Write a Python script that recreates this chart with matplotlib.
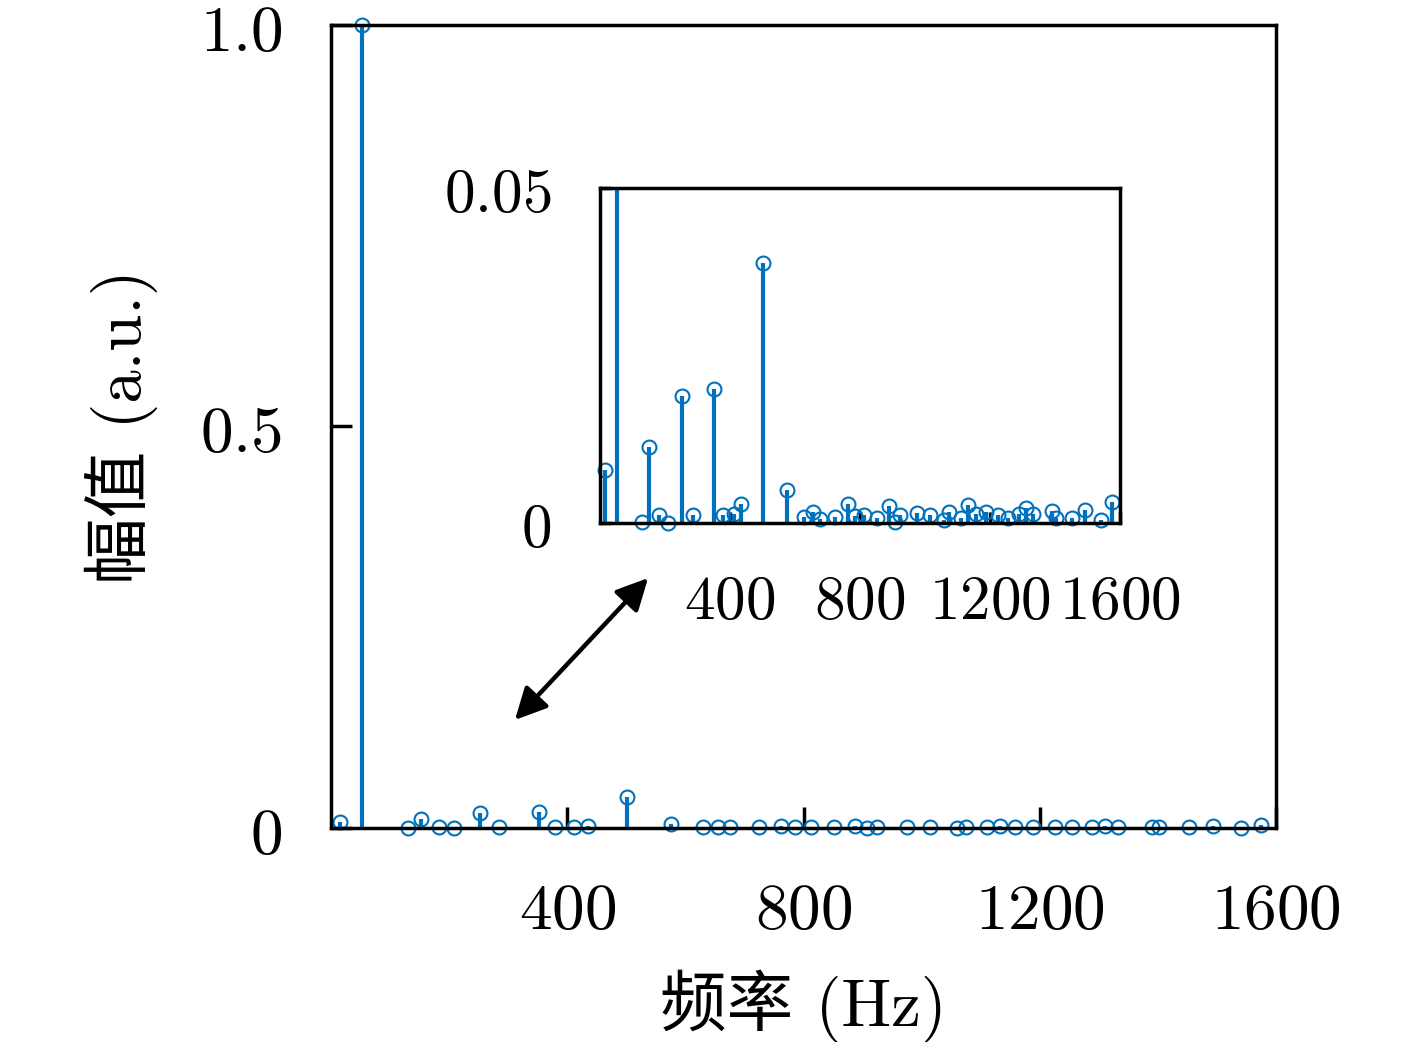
import numpy as np
import matplotlib
matplotlib.use('Agg')
import matplotlib.pyplot as plt
from matplotlib.patches import FancyArrowPatch

plt.rcParams['mathtext.fontset'] = 'cm'
plt.rcParams['font.family'] = ['Noto Sans CJK SC', 'DejaVu Sans']

# spectrum
freq = [15, 52, 130, 152, 182, 208, 252, 285, 352, 379, 411, 435, 501, 576,
        629, 655, 676, 724, 762, 785, 812, 852, 888, 908, 924, 975, 1014,
        1060, 1075, 1111, 1132, 1158, 1188, 1225, 1254, 1289, 1310, 1332,
        1390, 1402, 1452, 1493, 1541, 1575]
amp = [0.0079, 1.0, 0.0002, 0.0114, 0.0012, 0.0, 0.0189, 0.0012, 0.020,
       0.0012, 0.0013, 0.0029, 0.0388, 0.0049, 0.0009, 0.0017, 0.0006,
       0.0009, 0.0028, 0.0010, 0.0012, 0.0007, 0.0025, 0.0002, 0.0012,
       0.0015, 0.0012, 0.0004, 0.0017, 0.0007, 0.0027, 0.0014, 0.0017,
       0.0012, 0.0007, 0.0014, 0.0023, 0.0014, 0.0018, 0.0007, 0.0007,
       0.0020, 0.0004, 0.0032]

xticks = [400, 800, 1200, 1600]
main_yticks = [0, 0.5, 1.0]
main_ylabels = ['$0$', '$0.5$', '$1.0$']
inset_yticks = [0, 0.05]
inset_ylabels = ['$0$', '$0.05$']

blue = '#0072BD'
label_font = ['cmr10', 'Noto Sans CJK SC']

fig = plt.figure(figsize=(14.17, 10.42), dpi=100)


def draw_stems(ax, ymax, msize):
    ml, sl, bl = ax.stem(freq, amp, linefmt='-', markerfmt='o', basefmt=' ')
    sl.set_color(blue)
    sl.set_linewidth(3)
    ml.set_markerfacecolor('none')
    ml.set_markeredgecolor(blue)
    ml.set_markersize(msize)
    ml.set_markeredgewidth(1.5)
    ml.set_clip_on(False)
    ml.set_markevery([i for i, a in enumerate(amp) if a <= ymax])
    return ml


def style_axes(ax, ticklen, pad, size):
    for s in ax.spines.values():
        s.set_linewidth(2.5)
    ax.tick_params(direction='in', length=ticklen, width=2.5, top=False,
                   right=False, pad=pad, labelsize=size)


# main axes
ax = fig.add_axes([0.2336, 0.2054, 0.6669, 0.7706])
draw_stems(ax, 1.0, 10)
ax.set_xlim(0, 1600)
ax.set_ylim(0, 1.0)
ax.set_xticks(xticks)
ax.set_xticklabels(['$%d$' % t for t in xticks])
ax.set_yticks(main_yticks)
ax.set_yticklabels(main_ylabels)
style_axes(ax, 15, 35, 47)
ax.tick_params(axis='x', pad=36)
ax.set_xlabel('频率 (Hz)', fontsize=48, family=label_font, labelpad=18)
ax.set_ylabel('幅值 (a.u.)', fontsize=48, family=label_font, labelpad=30)

# inset
axi = fig.add_axes([0.4234, 0.4981, 0.3670, 0.3215])
draw_stems(axi, 0.05, 10)
axi.set_xlim(0, 1600)
axi.set_ylim(0, 0.05)
axi.set_xticks(xticks)
axi.set_xticklabels(['$%d$' % t for t in xticks])
axi.set_yticks(inset_yticks)
axi.set_yticklabels(inset_ylabels)
style_axes(axi, 8, 35, 44)
axi.tick_params(axis='x', pad=34)

# double arrow between the baseline and the inset
arr = FancyArrowPatch((513 / 1417, 1 - 722 / 1042), (650 / 1417, 1 - 576 / 1042),
                      transform=fig.transFigure, arrowstyle='<|-|>',
                      mutation_scale=48, linewidth=3.2, color='black')
fig.add_artist(arr)

fig.savefig('out.png', dpi=100)
